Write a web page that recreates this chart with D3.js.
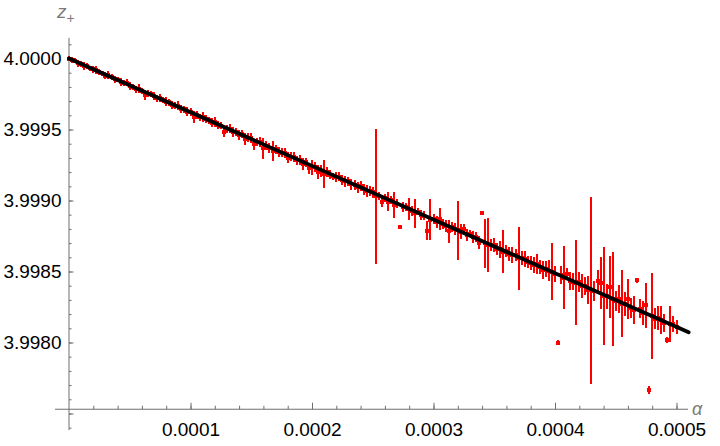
<!DOCTYPE html>
<html><head><meta charset="utf-8">
<script src="https://cdn.jsdelivr.net/npm/d3@7"></script>
<style>html,body{margin:0;padding:0;background:#fff;} svg{display:block;}</style>
</head><body><svg id="c" width="720" height="446"></svg>
<script>
// ---- data ----
const alpha = [0,2.5e-6,5e-6,7.5e-6,10e-6,12.5e-6,15e-6,17.5e-6,20e-6,22.5e-6,25e-6,27.5e-6,30e-6,32.5e-6,35e-6,37.5e-6,40e-6,42.5e-6,45e-6,47.5e-6,
50e-6,52.5e-6,55e-6,57.5e-6,60e-6,62.5e-6,65e-6,67.5e-6,70e-6,72.5e-6,75e-6,77.5e-6,80e-6,82.5e-6,85e-6,87.5e-6,90e-6,92.5e-6,95e-6,97.5e-6,
100e-6,102.5e-6,105e-6,107.5e-6,110e-6,112.5e-6,115e-6,117.5e-6,120e-6,122.5e-6,125e-6,127.5e-6,130e-6,132.5e-6,135e-6,137.5e-6,140e-6,142.5e-6,145e-6,147.5e-6,
150e-6,152.5e-6,155e-6,157.5e-6,160e-6,162.5e-6,165e-6,167.5e-6,170e-6,172.5e-6,175e-6,177.5e-6,180e-6,182.5e-6,185e-6,187.5e-6,190e-6,192.5e-6,195e-6,197.5e-6,
200e-6,202.5e-6,205e-6,207.5e-6,210e-6,212.5e-6,215e-6,217.5e-6,220e-6,222.5e-6,225e-6,227.5e-6,230e-6,232.5e-6,235e-6,237.5e-6,240e-6,242.5e-6,245e-6,247.5e-6,
250e-6,252.5e-6,255e-6,257.5e-6,260e-6,262.5e-6,265e-6,267.5e-6,270e-6,272.5e-6,275e-6,277.5e-6,280e-6,282.5e-6,285e-6,287.5e-6,290e-6,292.5e-6,295e-6,297.5e-6,
300e-6,302.5e-6,305e-6,307.5e-6,310e-6,312.5e-6,315e-6,317.5e-6,320e-6,322.5e-6,325e-6,327.5e-6,330e-6,332.5e-6,335e-6,337.5e-6,340e-6,342.5e-6,345e-6,347.5e-6,
350e-6,352.5e-6,355e-6,357.5e-6,360e-6,362.5e-6,365e-6,367.5e-6,370e-6,372.5e-6,375e-6,377.5e-6,380e-6,382.5e-6,385e-6,387.5e-6,390e-6,392.5e-6,395e-6,397.5e-6,
400e-6,402.5e-6,405e-6,407.5e-6,410e-6,412.5e-6,415e-6,417.5e-6,420e-6,422.5e-6,425e-6,427.5e-6,430e-6,432.5e-6,435e-6,437.5e-6,440e-6,442.5e-6,445e-6,447.5e-6,
450e-6,452.5e-6,455e-6,457.5e-6,460e-6,462.5e-6,465e-6,467.5e-6,470e-6,472.5e-6,475e-6,477.5e-6,480e-6,482.5e-6,485e-6,487.5e-6,490e-6,492.5e-6,495e-6,497.5e-6,
500e-6];

const zPlus = [4.000000,3.999987,3.999985,3.999968,3.999962,3.999946,3.999947,3.999930,3.999924,3.999922,
3.999902,3.999896,3.999880,3.999881,3.999868,3.999855,3.999852,3.999832,3.999830,3.999828,
3.999807,3.999802,3.999785,3.999786,3.999773,3.999745,3.999751,3.999748,3.999735,3.999719,
3.999724,3.999707,3.999694,3.999692,3.999672,3.999669,3.999667,3.999647,3.999641,3.999624,
3.999626,3.999591,3.999603,3.999587,3.999588,3.999571,3.999565,3.999549,3.999553,3.999533,
3.999528,3.999485,3.999505,3.999506,3.999483,3.999480,3.999464,3.999465,3.999434,3.999442,
3.999440,3.999395,3.999411,3.999412,3.999367,3.999386,3.999369,3.999349,3.999361,3.999341,
3.999338,3.999336,3.999302,3.999307,3.999304,3.999284,3.999282,3.999255,3.999270,3.999227,
3.999233,3.999235,3.999198,3.999211,3.999187,3.999200,3.999180,3.999171,3.999168,3.999166,
3.999142,3.999137,3.999134,3.999114,3.999112,3.999092,3.999100,3.999080,3.999067,3.999064,
3.999059,3.999030,3.999033,3.998986,3.999017,3.998990,3.999002,3.998966,3.998976,3.998810,
3.998953,3.998955,3.998937,3.998925,3.998911,3.998922,3.998900,3.998894,3.998788,3.998866,
3.998870,3.998849,3.998871,3.998834,3.998821,3.998782,3.998816,3.998796,3.998790,3.998779,
3.998796,3.998755,3.998767,3.998740,3.998741,3.998704,3.998915,3.998700,3.998685,3.998686,
3.998684,3.998660,3.998655,3.998639,3.998646,3.998626,3.998613,3.998614,3.998593,3.998592,
3.998590,3.998566,3.998560,3.998547,3.998552,3.998532,3.998512,3.998520,3.998507,3.998500,
3.998481,3.998000,3.998476,3.998456,3.998481,3.998434,3.998428,3.998422,3.998427,3.998396,
3.998401,3.998370,3.998367,3.998365,3.998431,3.998417,3.998328,3.998324,3.998389,3.998306,
3.998292,3.998304,3.998273,3.998271,3.998306,3.998245,3.998228,3.998440,3.998238,3.998207,
3.998261,3.997665,3.998186,3.998169,3.998174,3.998157,3.998137,3.998021,3.998129,3.998127,
3.998106];

const zErr = [14.1e-6,21.2e-6,17.7e-6,24.7e-6,21.2e-6,28.2e-6,21.2e-6,17.7e-6,24.7e-6,28.2e-6,
21.2e-6,17.7e-6,24.7e-6,28.2e-6,21.2e-6,24.7e-6,17.7e-6,28.2e-6,21.2e-6,24.7e-6,
28.2e-6,21.2e-6,24.7e-6,31.8e-6,21.2e-6,35.3e-6,24.7e-6,21.2e-6,28.2e-6,24.7e-6,
28.2e-6,21.2e-6,31.8e-6,24.7e-6,28.2e-6,21.2e-6,31.8e-6,28.2e-6,24.7e-6,31.8e-6,
28.2e-6,42.4e-6,28.2e-6,24.7e-6,31.8e-6,28.2e-6,24.7e-6,31.8e-6,35.3e-6,28.2e-6,
24.7e-6,35.3e-6,28.2e-6,31.8e-6,35.3e-6,28.2e-6,35.3e-6,28.2e-6,42.4e-6,31.8e-6,
35.3e-6,38.8e-6,28.2e-6,35.3e-6,74.2e-6,31.8e-6,35.3e-6,70.6e-6,31.8e-6,35.3e-6,
28.2e-6,35.3e-6,38.8e-6,31.8e-6,35.3e-6,31.8e-6,35.3e-6,42.4e-6,31.8e-6,38.8e-6,
53e-6,35.3e-6,49.4e-6,42.4e-6,98.9e-6,35.3e-6,31.8e-6,24.7e-6,35.3e-6,31.8e-6,
35.3e-6,38.8e-6,31.8e-6,38.8e-6,35.3e-6,38.8e-6,35.3e-6,38.8e-6,42.4e-6,35.3e-6,
38.8e-6,476.7e-6,28.2e-6,31.8e-6,28.2e-6,67.1e-6,28.2e-6,91.8e-6,31.8e-6,10.6e-6,
35.3e-6,28.2e-6,77.7e-6,35.3e-6,102.4e-6,24.7e-6,35.3e-6,31.8e-6,67.1e-6,144.8e-6,
35.3e-6,42.4e-6,77.7e-6,35.3e-6,42.4e-6,81.2e-6,35.3e-6,42.4e-6,208.3e-6,53e-6,
38.8e-6,42.4e-6,24.7e-6,42.4e-6,35.3e-6,45.9e-6,14.1e-6,173e-6,190.7e-6,42.4e-6,
49.4e-6,42.4e-6,56.5e-6,151.8e-6,42.4e-6,49.4e-6,56.5e-6,42.4e-6,222.5e-6,49.4e-6,
56.5e-6,42.4e-6,49.4e-6,56.5e-6,70.6e-6,49.4e-6,63.6e-6,56.5e-6,70.6e-6,201.3e-6,
56.5e-6,14.1e-6,63.6e-6,222.5e-6,42.4e-6,63.6e-6,60e-6,300.1e-6,70.6e-6,84.7e-6,
63.6e-6,98.9e-6,660.3e-6,70.6e-6,81.2e-6,183.6e-6,346e-6,84.7e-6,218.9e-6,328.4e-6,
70.6e-6,98.9e-6,236.6e-6,84.7e-6,141.2e-6,70.6e-6,98.9e-6,17.7e-6,67.1e-6,84.7e-6,
155.4e-6,28.2e-6,303.7e-6,70.6e-6,84.7e-6,98.9e-6,63.6e-6,21.2e-6,127.1e-6,56.5e-6,
49.4e-6];

// fitted line (end points)
const fitAlpha = [0, 0.00051];
const fitZ = [4.0, 3.9980722];

// ticks
const xMajorTicks = [0.0001, 0.0002, 0.0003, 0.0004, 0.0005];
const xTickLabels = ["0.0001", "0.0002", "0.0003", "0.0004", "0.0005"];
const yMajorTicks = [3.9975, 3.998, 3.9985, 3.999, 3.9995, 4.0];
const yTickLabels = ["", "3.9980", "3.9985", "3.9990", "3.9995", "4.0000"];
const xAxisLabel = "α";
const yAxisLabel = "z";
const yAxisLabelSub = "+";

// ---- drawing ----
const svg = d3.select("#c");
const x = d3.scaleLinear().domain([0, 0.0005]).range([69, 676.5]);
const y = d3.scaleLinear().domain([3.998, 4.0]).range([342.5, 58.5]);

const axisColor = "#6e6e6e";
const fontFam = "'Liberation Sans', Arial, Helvetica, sans-serif";
const x0 = x(0);
const yAxisPos = y(3.99753);

// axis lines
svg.append("line").attr("x1", x(-0.0000115)).attr("x2", x(0.0005095))
  .attr("y1", yAxisPos).attr("y2", yAxisPos)
  .attr("stroke", axisColor).attr("stroke-width", 1);
svg.append("line").attr("x1", x0).attr("x2", x0)
  .attr("y1", y(4.000145)).attr("y2", y(3.997383))
  .attr("stroke", axisColor).attr("stroke-width", 1);

// x minor ticks
const xMinor = d3.range(1, 26).map(k => k * 0.00002).filter(v => x(v) < x(0.0005095));
const gxm = svg.append("g").attr("transform", `translate(0,${yAxisPos})`)
  .call(d3.axisBottom(x).tickValues(xMinor).tickSize(-3.5).tickFormat(""));
gxm.select(".domain").remove();
gxm.selectAll("line").attr("stroke", axisColor);

// x major ticks
const gx = svg.append("g").attr("transform", `translate(0,${yAxisPos})`)
  .call(d3.axisBottom(x).tickValues(xMajorTicks).tickSize(-6.5).tickPadding(13)
    .tickFormat((d, i) => xTickLabels[i]));
gx.select(".domain").remove();
gx.selectAll("line").attr("stroke", axisColor);
gx.selectAll("text").attr("font-family", fontFam).attr("font-size", 19).attr("fill", "#000");

// y minor ticks
const yMinor = d3.range(39974, 40002).map(v => v / 10000)
  .filter(v => y(v) > y(4.000145) && y(v) < y(3.997383));
const gym = svg.append("g").attr("transform", `translate(${x0},0)`)
  .call(d3.axisLeft(y).tickValues(yMinor).tickSize(-2.5).tickFormat(""));
gym.select(".domain").remove();
gym.selectAll("line").attr("stroke", axisColor);

// y major ticks
const gy = svg.append("g").attr("transform", `translate(${x0},0)`)
  .call(d3.axisLeft(y).tickValues(yMajorTicks).tickSize(-4.5).tickPadding(7.5)
    .tickFormat((d, i) => yTickLabels[i]));
gy.select(".domain").remove();
gy.selectAll("line").attr("stroke", axisColor);
gy.selectAll("text").attr("font-family", fontFam).attr("font-size", 19).attr("fill", "#000");

// axis labels
const yl = svg.append("text").attr("x", 57).attr("y", 18)
  .attr("font-family", fontFam).attr("font-size", 19).attr("fill", "#7a7a7a")
  .attr("font-style", "italic").text(yAxisLabel);
yl.append("tspan").attr("dy", 4.5).attr("font-size", 14).attr("font-style", "normal").text(yAxisLabelSub);
svg.append("text").attr("x", 692).attr("y", 414.5)
  .attr("font-family", fontFam).attr("font-size", 18).attr("fill", "#7a7a7a")
  .attr("font-style", "italic").text(xAxisLabel);

// data: error bars + points
const pts = alpha.map((a, i) => ({a, z: zPlus[i], e: zErr[i]}));
const gData = svg.append("g").attr("shape-rendering", "crispEdges");
gData.selectAll("line.err").data(pts).enter().append("line")
  .attr("class", "err")
  .attr("x1", d => x(d.a)).attr("x2", d => x(d.a))
  .attr("y1", d => y(d.z + d.e)).attr("y2", d => y(d.z - d.e))
  .attr("stroke", "#ff0000").attr("stroke-width", 2);
gData.selectAll("rect").data(pts).enter().append("rect")
  .attr("x", d => x(d.a) - 2).attr("y", d => y(d.z) - 2)
  .attr("width", 4).attr("height", 4)
  .attr("fill", "#ff0000");

// fit line
const fit = fitAlpha.map((a, i) => [a, fitZ[i]]);
svg.append("path").datum(fit)
  .attr("d", d3.line().x(d => x(d[0])).y(d => y(d[1])))
  .attr("stroke", "#000").attr("stroke-width", 3.8).attr("fill", "none")
  .attr("stroke-linecap", "round");
</script>
</body></html>
